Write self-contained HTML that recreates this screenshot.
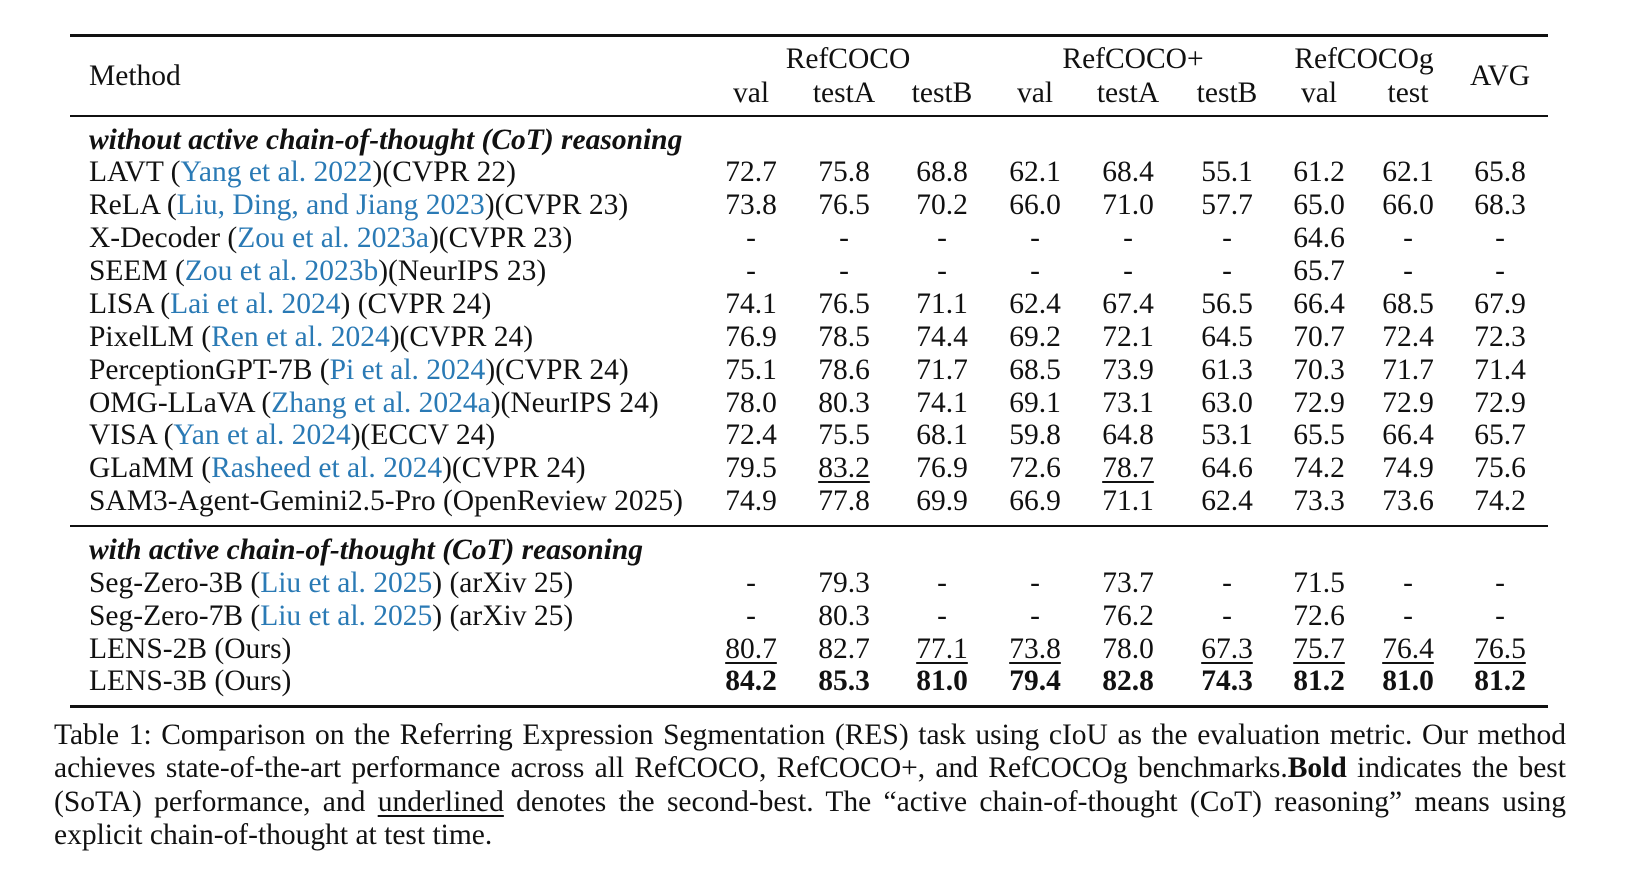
<!DOCTYPE html>
<html><head><meta charset="utf-8">
<style>
html,body{margin:0;padding:0;background:#fff;}
body{width:1626px;height:878px;position:relative;overflow:hidden;font-family:"Liberation Serif",serif;font-size:29.5px;color:#111;}
.t{position:absolute;white-space:nowrap;line-height:33px;}
.c{transform:translateX(-50%);}
.rule{position:absolute;left:70px;width:1478px;background:#111;}
.cite{color:#2a7ab5;}
.u{text-decoration:underline;text-decoration-thickness:1.5px;text-underline-offset:4px;}
.b{font-weight:bold;}
#caption{position:absolute;left:54px;top:719px;width:1512px;line-height:33.3px;text-align:justify;}
</style></head>
<body>
<div class="rule" style="top:34px;height:2.5px"></div>
<div class="rule" style="top:115px;height:1.8px"></div>
<div class="rule" style="top:525px;height:1.8px"></div>
<div class="rule" style="top:705px;height:2.5px"></div>
<div id="tbl"></div>
<div id="caption">Table 1: Comparison on the Referring Expression Segmentation (RES) task using cIoU as the evaluation metric. Our method achieves state-of-the-art performance across all RefCOCO, RefCOCO+, and RefCOCOg benchmarks.<b>Bold</b> indicates the best (SoTA) performance, and <span class="u">underlined</span> denotes the second-best. The “active chain-of-thought (CoT) reasoning” means using explicit chain-of-thought at test time.</div>
<script>
const colX=[751,844,942,1035,1128,1227,1319,1408,1500];
const subHeaders=["val","testA","testB","val","testA","testB","val","test"];
const groups=[["RefCOCO",848],["RefCOCO+",1133],["RefCOCOg",1364]];
const methods=[
 ["LAVT (","Yang et al. 2022",")(CVPR 22)"],
 ["ReLA (","Liu, Ding, and Jiang 2023",")(CVPR 23)"],
 ["X-Decoder (","Zou et al. 2023a",")(CVPR 23)"],
 ["SEEM (","Zou et al. 2023b",")(NeurIPS 23)"],
 ["LISA (","Lai et al. 2024",") (CVPR 24)"],
 ["PixelLM (","Ren et al. 2024",")(CVPR 24)"],
 ["PerceptionGPT-7B (","Pi et al. 2024",")(CVPR 24)"],
 ["OMG-LLaVA (","Zhang et al. 2024a",")(NeurIPS 24)"],
 ["VISA (","Yan et al. 2024",")(ECCV 24)"],
 ["GLaMM (","Rasheed et al. 2024",")(CVPR 24)"],
 ["SAM3-Agent-Gemini2.5-Pro (OpenReview 2025)","",""],
 ["Seg-Zero-3B (","Liu et al. 2025",") (arXiv 25)"],
 ["Seg-Zero-7B (","Liu et al. 2025",") (arXiv 25)"],
 ["LENS-2B (Ours)","",""],
 ["LENS-3B (Ours)","",""]
];
const values=[
 ["72.7","75.8","68.8","62.1","68.4","55.1","61.2","62.1","65.8"],
 ["73.8","76.5","70.2","66.0","71.0","57.7","65.0","66.0","68.3"],
 ["-","-","-","-","-","-","64.6","-","-"],
 ["-","-","-","-","-","-","65.7","-","-"],
 ["74.1","76.5","71.1","62.4","67.4","56.5","66.4","68.5","67.9"],
 ["76.9","78.5","74.4","69.2","72.1","64.5","70.7","72.4","72.3"],
 ["75.1","78.6","71.7","68.5","73.9","61.3","70.3","71.7","71.4"],
 ["78.0","80.3","74.1","69.1","73.1","63.0","72.9","72.9","72.9"],
 ["72.4","75.5","68.1","59.8","64.8","53.1","65.5","66.4","65.7"],
 ["79.5","83.2","76.9","72.6","78.7","64.6","74.2","74.9","75.6"],
 ["74.9","77.8","69.9","66.9","71.1","62.4","73.3","73.6","74.2"],
 ["-","79.3","-","-","73.7","-","71.5","-","-"],
 ["-","80.3","-","-","76.2","-","72.6","-","-"],
 ["80.7","82.7","77.1","73.8","78.0","67.3","75.7","76.4","76.5"],
 ["84.2","85.3","81.0","79.4","82.8","74.3","81.2","81.0","81.2"]
];
// style flags: u = underline (second best), b = bold (best)
const styles=[
 "","","","","","","","","","_u__u____","","","","u_uu_uuuu","bbbbbbbbb"
];
const rowY=[174,207,240,273,306,339,372,405,437,470,503,585,618,651,683];
const tbl=document.getElementById('tbl');
function add(html,x,cy,cls,name){
 const d=document.createElement('div');
 d.className='t '+(cls||'');
 d.style.left=x+'px';d.style.top=(cy-18)+'px';
 d.innerHTML=html;
 
 
 tbl.appendChild(d);return d;
}
add('Method',89,78,'','method-header');
groups.forEach(g=>add(g[0],g[1],61,'c','group-header-'+g[0].toLowerCase().replace('+','-plus')));
add('AVG',colX[8],78,'c','avg-header');
subHeaders.forEach((s,i)=>add(s,colX[i],95,'c','subheader-'+s.toLowerCase()));
add('<b><i>without active chain-of-thought (CoT) reasoning</i></b>',89,142,'','section-without-cot');
add('<b><i>with active chain-of-thought (CoT) reasoning</i></b>',89,552,'','section-with-cot');
methods.forEach((m,r)=>{
 const html=m[0]+(m[1]?'<span class="cite">'+m[1]+'</span>':'')+m[2];
 add(html,89,rowY[r],'','method-name');
 values[r].forEach((v,c)=>{
  const f=styles[r][c]||'';
  const cls='c'+(f==='u'?' u':'')+(f==='b'?' b':'');
  add(v,colX[c],rowY[r],cls,'value-cell');
 });
});
</script>
</body></html>
